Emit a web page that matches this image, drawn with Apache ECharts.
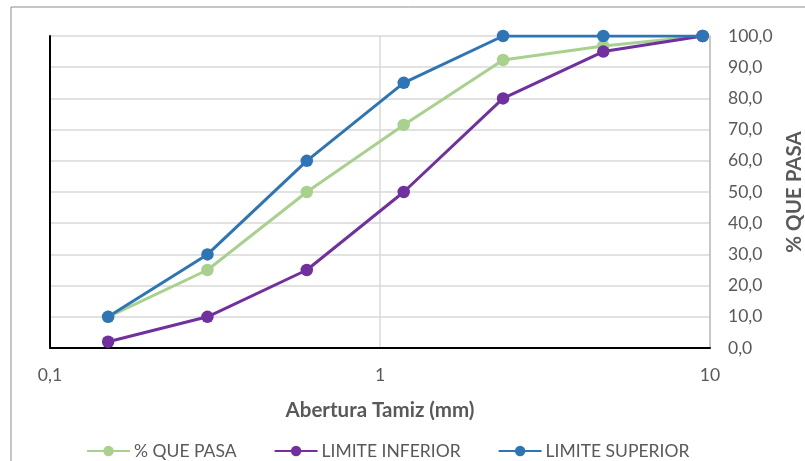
<!DOCTYPE html>
<html><head><meta charset="utf-8">
<script src="https://cdn.jsdelivr.net/npm/echarts@6/dist/echarts.min.js"></script>
<style>html,body{margin:0;padding:0;background:#fff}#c{width:805px;height:461px}</style>
</head><body><div id="c"></div>
<script>
const sizes = [0.15, 0.3, 0.6, 1.18, 2.36, 4.75, 9.5];
const quePasa = [10, 25, 50, 71.5, 92.3, 96.8, 100];
const limInferior = [2, 10, 25, 50, 80, 95, 100];
const limSuperior = [10, 30, 60, 85, 100, 100, 100];
const seriesNames = ['% QUE PASA', 'LIMITE INFERIOR', 'LIMITE SUPERIOR'];
const xTitle = 'Abertura Tamiz (mm)';
const yTitle = '% QUE PASA';

const pair = arr => sizes.map((s, i) => [s, arr[i]]);
const font = 'Lato, "Liberation Sans", sans-serif';
const chart = echarts.init(document.getElementById('c'));
const mk = (name, data, color) => ({
  name, type: 'line', data: pair(data), xAxisIndex: 0, yAxisIndex: 0,
  symbol: 'circle', symbolSize: 12.5, showSymbol: true,
  lineStyle: { color, width: 3 }, itemStyle: { color }
});
chart.setOption({
  animation: false,
  graphic: [{ type: 'rect', shape: { x: 11, y: 7, width: 820, height: 480 },
    style: { fill: 'none', stroke: '#8c8c8c', lineWidth: 1 }, z: -1 }],
  grid: { left: 50, right: 95, top: 36, bottom: 113, containLabel: false, outerBoundsMode: 'none' },
  legend: {
    top: 437, left: 81, itemWidth: 43, itemHeight: 13, itemGap: 37,
    textStyle: { color: '#595959', fontSize: 17.5, fontFamily: font, padding: [0, 0, 0, -1] },
    data: seriesNames
  },
  xAxis: [{
    type: 'log', logBase: 10, min: 0.1, max: 10,
    name: xTitle, nameLocation: 'middle', nameGap: 52,
    nameTextStyle: { color: '#595959', fontSize: 20.5, fontWeight: 'bold', fontFamily: font },
    axisLine: { show: true, lineStyle: { color: '#bfbfbf', width: 1.5 } },
    axisTick: { show: false },
    axisLabel: { color: '#595959', fontSize: 17.5, fontFamily: font, margin: 18,
      formatter: v => String(+v.toPrecision(6)).replace('.', ',') },
    splitLine: { show: true, lineStyle: { color: '#d9d9d9', width: 1.5 } },
    minorSplitLine: { show: false }
  }, {
    type: 'log', logBase: 10, min: 0.1, max: 10, position: 'top',
    axisLine: { show: true, lineStyle: { color: '#000', width: 2 } },
    axisTick: { show: false }, axisLabel: { show: false }, splitLine: { show: false }
  }],
  yAxis: [{
    type: 'value', position: 'right', min: 0, max: 100, interval: 10,
    name: yTitle, nameLocation: 'middle', nameGap: 70, nameRotate: 90,
    nameTextStyle: { color: '#595959', fontSize: 20.5, fontWeight: 'bold', fontFamily: font },
    axisLine: { show: true, lineStyle: { color: '#bfbfbf', width: 1.5 } },
    axisTick: { show: false },
    axisLabel: { color: '#595959', fontSize: 17.5, fontFamily: font, margin: 18,
      formatter: v => v.toFixed(1).replace('.', ',') },
    splitLine: { show: true, lineStyle: { color: '#d9d9d9', width: 1.5 } }
  }, {
    type: 'value', position: 'left', min: 0, max: 100, interval: 10,
    axisLine: { show: true, lineStyle: { color: '#000', width: 2 } },
    axisTick: { show: false }, axisLabel: { show: false }, splitLine: { show: false }
  }],
  series: [
    mk(seriesNames[0], quePasa, '#a9d18e'),
    mk(seriesNames[1], limInferior, '#7030a0'),
    mk(seriesNames[2], limSuperior, '#2e75b6')
  ]
});
</script></body></html>
